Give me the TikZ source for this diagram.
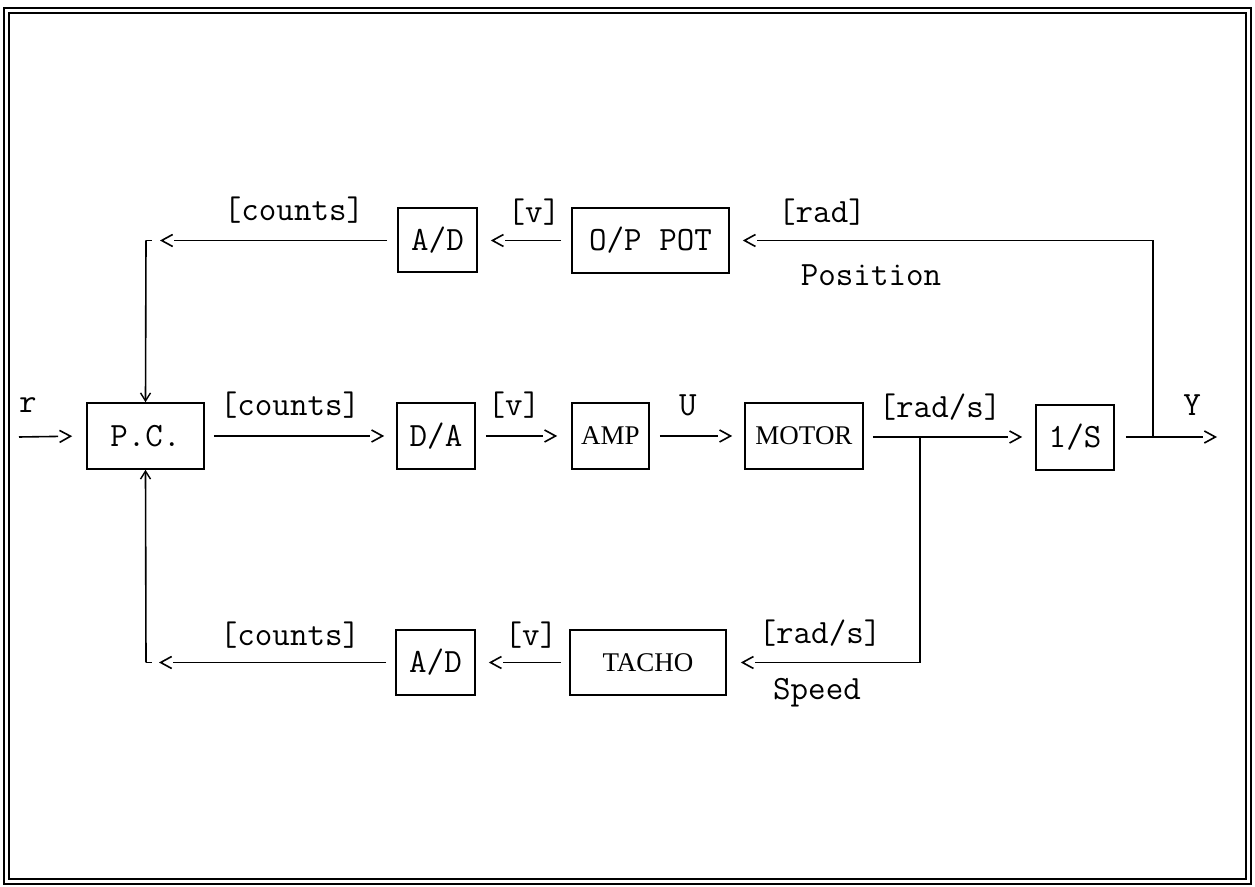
\documentclass[tikz,border=0pt]{standalone}
\usepackage{fontspec}
\newfontfamily\tms{Liberation Serif}
\usetikzlibrary{arrows.meta}
\begin{document}
\begin{tikzpicture}[x=0.5pt,y=-0.5pt,
  lab/.style={font=\ttfamily\fontsize{17}{20}\selectfont, inner sep=0pt},
  blk/.style={draw, line width=0.8pt, inner sep=0pt, font=\ttfamily\fontsize{17}{20}\selectfont},
  sblk/.style={blk, font=\tms\fontsize{13.5}{16}\selectfont},
  wire/.style={line width=0.8pt},
  sig/.style={wire, shorten >={#1+7pt},
    postaction={draw, dash pattern=on 0pt off 3000pt, shorten >=#1,
      -{Straight Barb[length=5.5pt,width=6pt,line width=0.8pt]}}},
  stick/.style={wire, -{Straight Barb[length=4pt,width=5pt,line width=0.7pt]}},
]
\useasboundingbox (0,0) rectangle (1255,887);
% frame
\draw[line width=1.1pt] (4,8) rectangle (1251,884);
\draw[line width=0.8pt] (9,13) rectangle (1246,879);

% main row
\node[blk, minimum width=58.5pt, minimum height=33pt] (pc) at (145.5,436) {P.C.};
\node[blk, minimum width=39pt, minimum height=33pt] (da) at (436,436) {D/A};
\node[sblk, minimum width=38.5pt, minimum height=33pt] (amp) at (610.5,436) {AMP};
\node[sblk, minimum width=59pt, minimum height=33pt] (motor) at (804,436) {MOTOR};
\node[blk, minimum width=39pt, minimum height=32.5pt] (int) at (1075,437.5) {1/S};

% top row
\node[blk, minimum width=39.5pt, minimum height=32pt] (adt) at (437.5,240) {A/D};
\node[blk, minimum width=78.5pt, minimum height=32.5pt] (opp) at (650.5,240.5) {O/P POT};

% bottom row
\node[blk, minimum width=39.5pt, minimum height=32.5pt] (adb) at (435.5,662.5) {A/D};
\node[sblk, minimum width=78pt, minimum height=32.5pt] (tacho) at (648,662.5) {TACHO};

% coordinates
\coordinate (rin) at (19,437);
\coordinate (yout) at (1217,437);
\coordinate (mj) at (920,437);
\coordinate (yj) at (1153,437);
\coordinate (ct) at (146,240.5);
\coordinate (cb) at (146,662.5);

% main connectors
\draw[sig=7pt] (rin) -- (pc.west);
\draw[sig=6pt, shorten <=4.5pt] (pc.east) -- (da.west);
\draw[sig=7pt, shorten <=5pt] (da.east) -- (amp.west);
\draw[sig=6pt, shorten <=5pt] (amp.east) -- (motor.west);
\draw[sig=6.5pt, shorten <=4.5pt] (motor.east |- mj) -- (int.west |- mj);
\draw[sig=0pt, shorten <=5.5pt] (int.east |- yout) -- (yout);

% position feedback
\draw[sig=6.5pt] (yj) |- (opp.east);
\draw[sig=6.5pt, shorten <=5pt] (opp.west) -- (adt.east |- opp.west);
\draw[sig=7pt, shorten <=5pt] (adt.west |- ct) -- (ct);
\draw[wire] (ct) -- ++(6,0);
\draw[stick] (ct) -- (pc.north);

% speed feedback
\draw[sig=7pt] (mj) |- (tacho.east);
\draw[sig=6.5pt, shorten <=4pt] (tacho.west) -- (adb.east);
\draw[sig=6.5pt, shorten <=4.5pt] (adb.west) -- (cb);
\draw[wire] (cb) -- ++(6,0);
\draw[stick] (cb) -- (pc.south);

% labels
\node[lab] (lr) at (28,405) {r};
\node[lab] (lc1) at (290,405) {[counts]};
\node[lab] (lv1) at (514,405) {[v]};
\node[lab] (lu) at (688,405) {U};
\node[lab] (lrs1) at (940,407) {[rad/s]};
\node[lab] (ly) at (1192,405) {Y};
\node[lab] (lc2) at (294,210) {[counts]};
\node[lab] (lv2) at (534,212) {[v]};
\node[lab] (lrad) at (822,212) {[rad]};
\node[lab] (lpos) at (871,275) {Position};
\node[lab] (lc3) at (290,635) {[counts]};
\node[lab] (lv3) at (531,635) {[v]};
\node[lab] (lrs2) at (820,633) {[rad/s]};
\node[lab] (lsp) at (817,693) {Speed};
\end{tikzpicture}
\end{document}
